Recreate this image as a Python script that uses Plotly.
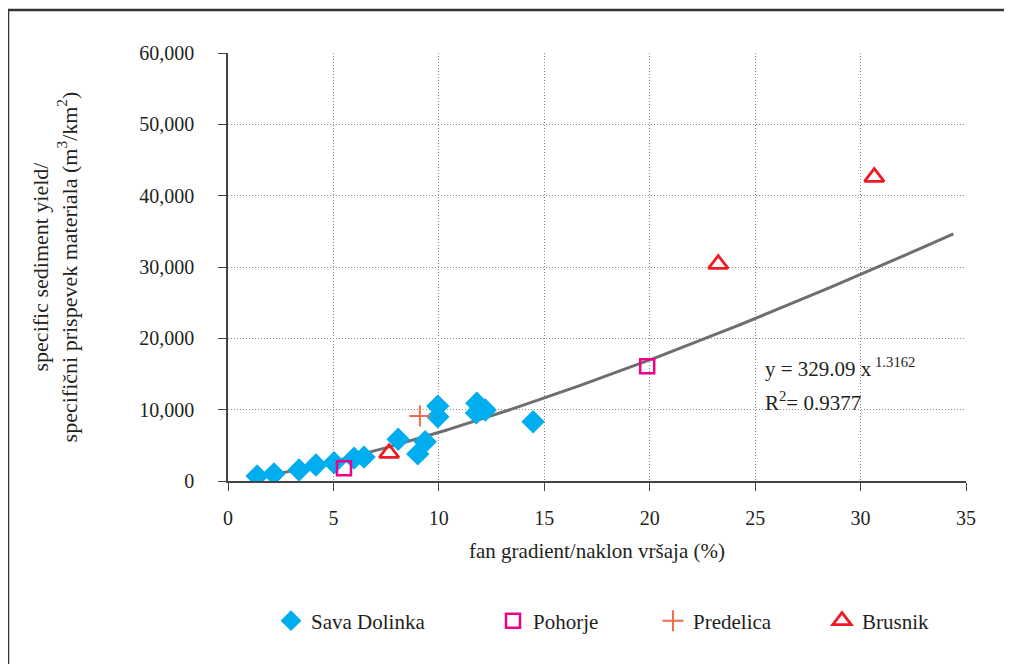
import numpy as np
import plotly.graph_objects as go

# ---- data ----
sava_x = [1.38, 2.18, 3.37, 4.17, 5.03, 5.98, 6.45, 8.07, 9.0, 9.35, 9.95, 9.95, 11.8, 11.78, 12.2, 14.47]
sava_y = [700, 1000, 1550, 2250, 2550, 3200, 3350, 5850, 3800, 5500, 10500, 9000, 10900, 9550, 9950, 8300]

pohorje_x = [5.5, 19.88]
pohorje_y = [1800, 16100]

predelica_x = [9.1]
predelica_y = [9100]

brusnik_x = [7.64, 23.25, 30.65]
brusnik_y = [3900, 30400, 42600]

# power trendline as stated on the chart
fit_a = 329.09
fit_b = 1.3162
fit_r2 = 0.9377
fit_x_range = [1.38, 34.4]

x_ticks = [0, 5, 10, 15, 20, 25, 30, 35]
y_ticks = [0, 10000, 20000, 30000, 40000, 50000, 60000]

# ---- figure ----
FONT = "Liberation Serif"
TXT = "#231F20"
OFF = 7  # page offset of the plot div

fig = go.Figure()

fx = np.linspace(fit_x_range[0], fit_x_range[1], 200)
fig.add_trace(go.Scatter(
    x=fx, y=fit_a * fx ** fit_b, mode="lines",
    line=dict(color="#6D6E70", width=3), showlegend=False, hoverinfo="skip"))

fig.add_trace(go.Scatter(
    x=sava_x, y=sava_y, mode="markers", name="Sava Dolinka",
    marker=dict(symbol="diamond", size=18, color="#00AEEF", line=dict(width=0)),
    legend="legend"))
fig.add_trace(go.Scatter(
    x=pohorje_x, y=pohorje_y, mode="markers", name="Pohorje",
    marker=dict(symbol="square-open", size=14, color="#EC008C", line=dict(width=2.5)),
    legend="legend2"))
fig.add_trace(go.Scatter(
    x=predelica_x, y=predelica_y, mode="markers", name="Predelica",
    marker=dict(symbol="cross-thin", size=15, color="#F26C4F", line=dict(width=2, color="#F26C4F")),
    legend="legend3"))
fig.add_trace(go.Scatter(
    x=brusnik_x, y=brusnik_y, mode="markers", name="Brusnik",
    marker=dict(symbol="triangle-up-open", size=17, color="#ED1C24", line=dict(width=2.8)),
    legend="legend4"))

W, H = 1012, 664
L, R, T, B = 227 - OFF, W - (965 - OFF), 52 - OFF, H - (480 - OFF)
pw, ph = W - L - R, H - T - B

def px_x(p):
    # reference pixel -> paper
    return (p - OFF - L) / pw

def px_y(p):
    return (H - B - (p - OFF)) / ph

tick_font = dict(family=FONT, size=20, color=TXT)
text_font = dict(family=FONT, size=21, color=TXT)
leg_common = dict(orientation="h", yanchor="middle", y=px_y(620), xanchor="left",
                  font=text_font, bgcolor="rgba(0,0,0,0)", itemwidth=30)
fig.update_layout(
    width=W, height=H,
    margin=dict(l=L, r=R, t=T, b=B),
    paper_bgcolor="white", plot_bgcolor="white",
    font=tick_font,
    legend=dict(x=px_x(270), **leg_common),
    legend2=dict(x=px_x(492), **leg_common),
    legend3=dict(x=px_x(652), **leg_common),
    legend4=dict(x=px_x(821), **leg_common),
    xaxis=dict(
        range=[0, 35], tickvals=x_ticks, ticks="outside", ticklen=8, tickcolor="#444",
        showline=True, linecolor="#444", linewidth=1.5, zeroline=False,
        showgrid=True, gridcolor="#8A8A8A", griddash="1px,2px", gridwidth=1,
        tickfont=tick_font, ticklabelstandoff=10,
        title=dict(text="fan gradient/naklon vršaja (%)", standoff=16, font=text_font)),
    yaxis=dict(
        range=[0, 60000], tickvals=y_ticks, tickformat=",", ticks="outside", ticklen=8,
        tickcolor="#444", showline=True, linecolor="#444", linewidth=1.5, zeroline=False,
        showgrid=True, gridcolor="#8A8A8A", griddash="1px,2px", gridwidth=1,
        tickfont=tick_font, ticklabelstandoff=20,
        title=dict(text="specific sediment yield/<br>specifični prispevek materiala (m<sup>3</sup>/km<sup>2</sup>)",
                   standoff=56, font=dict(family=FONT, size=22, color=TXT))),
    annotations=[
        dict(x=25.37, y=15900, xref="x", yref="y", xanchor="left", yanchor="middle",
             text=f"y = {fit_a:.2f} x<sup> {fit_b}</sup>", showarrow=False, font=text_font),
        dict(x=25.37, y=11200, xref="x", yref="y", xanchor="left", yanchor="middle",
             text=f"R<sup>2</sup>= {fit_r2}", showarrow=False, font=text_font),
    ],
    shapes=[
        dict(type="rect", xref="paper", yref="paper",
             x0=px_x(7), y0=px_y(9), x1=px_x(1100), y1=px_y(760),
             line=dict(color="#333", width=2.5), fillcolor="rgba(0,0,0,0)", layer="below"),
    ],
)

fig.write_html("out.html")
